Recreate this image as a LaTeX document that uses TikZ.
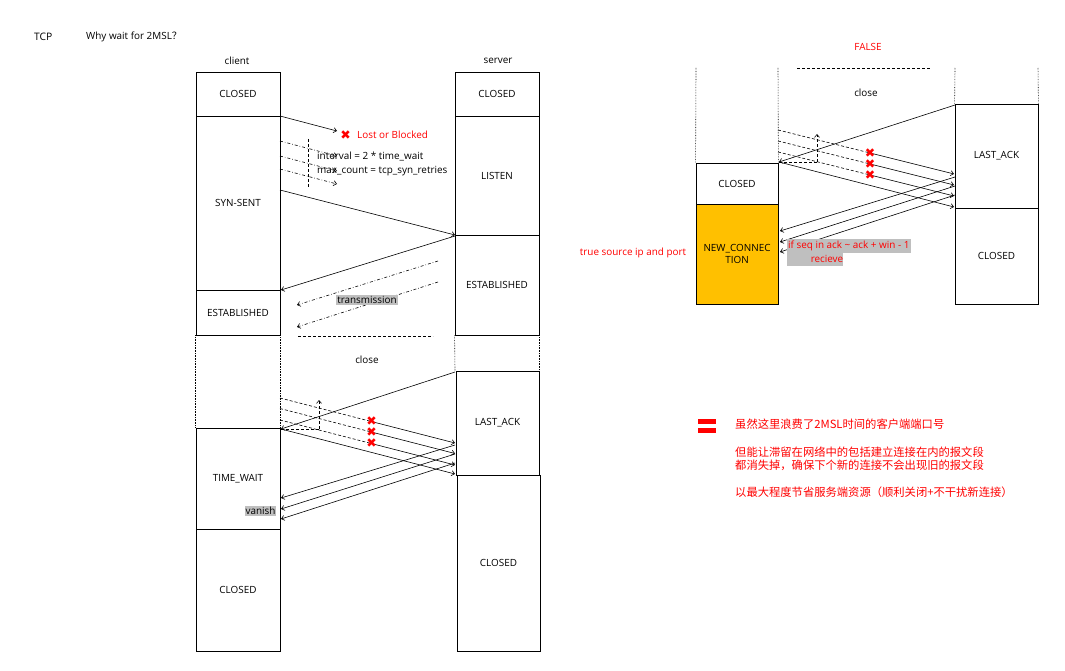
\documentclass[tikz,border=0pt]{standalone}
\usepackage{fontspec}
\setmainfont{Open Sans}
\newfontfamily\cjk{Noto Sans CJK SC}
\newfontfamily\symf{DejaVu Sans}
\usetikzlibrary{arrows.meta}
\definecolor{orng}{HTML}{FFC000}
\definecolor{hl}{HTML}{BFBFBF}
\newcommand\mybox[7][]{\node[box,#1,minimum width={(#5-#3)*1pt},minimum height={(#6-#4)*1pt}] (#2) at ({(#3+#5)/2},{(#4+#6)/2}) {#7};}
\begin{document}
\begin{tikzpicture}[x=1pt,y=-1pt,
  every node/.style={font=\fontsize{9.9}{12.2}\selectfont, inner sep=0pt},
  box/.style={draw, line width=0.8pt, align=center},
  redlbl/.style={text=red},
  msg/.style={line width=0.6pt, -{Straight Barb[length=3pt,width=5pt]}},
  dmsg/.style={msg, dash dot},
  rmsg/.style={line width=0.6pt, densely dashed},
  uparr/.style={line width=0.6pt, densely dashed, -{Straight Barb[length=3pt,width=5pt]}},
  col/.style={line width=0.6pt, densely dotted},
  sep/.style={line width=0.6pt, densely dashed},
  xm/.style={text=red, font=\symf\fontsize{12.5}{12.5}\selectfont},
  hlt/.style={fill=hl, inner xsep=1pt, inner ysep=1pt},
  cjktext/.style={anchor=west, text=red, font=\cjk\fontsize{11.3}{13}\selectfont},
]
\path[use as bounding box] (0,0) rectangle (1065,671);

% ---------- title ----------
\node[anchor=west, font=\fontsize{10.3}{12}\selectfont] (tcp) at (34,37) {TCP};
\node[anchor=west] (why) at (86,37) {Why wait for 2MSL{\cjk ？}};

% ---------- left diagram ----------
\node (client) at (237,61) {client};
\node (server) at (498,61) {server};

\mybox{cClosed}{196}{72}{280}{116}{CLOSED}
\mybox{cSyn}{196}{116}{280}{290}{SYN-SENT}
\mybox{cEst}{196}{290}{280}{335}{ESTABLISHED}
\mybox{cTW}{196}{428}{280}{529}{TIME\_WAIT}
\mybox{cClosedB}{196}{529}{280}{651}{CLOSED}

\mybox{sClosed}{455}{72}{539}{116}{CLOSED}
\mybox{sListen}{455}{116}{539}{235}{LISTEN}
\mybox{sEst}{455}{235}{539}{335}{ESTABLISHED}
\mybox{sLA}{456}{371}{539}{475}{LAST\_ACK}
\mybox{sClosedB}{457}{475}{540}{651}{CLOSED}

% SYN lost
\coordinate (synA) at (280,116);
\coordinate (synAe) at (337,131);
\draw[msg] (synA) -- (synAe);
\node[xm] (lostx) at (345.5,135) {✖};
\node[redlbl, anchor=west] (lost) at (357,135) {Lost or Blocked};

% retries
\coordinate (rt1) at (280,141); \coordinate (rt1e) at (337,156);
\coordinate (rt2) at (280,156); \coordinate (rt2e) at (337,171);
\coordinate (rt3) at (280,169); \coordinate (rt3e) at (337,184);
\draw[dmsg] (rt1) -- (rt1e);
\draw[dmsg] (rt2) -- (rt2e);
\draw[dmsg] (rt3) -- (rt3e);
\coordinate (vt) at (308,139); \coordinate (vb) at (308,187);
\draw[sep] (vt) -- (vb);
\node[anchor=west] (intv) at (317,157) {interval = 2 * time\_wait};
\node[anchor=west] (maxc) at (317,171) {max\_count = tcp\_syn\_retries};

% SYN / SYN-ACK
\coordinate (syn2) at (280,190); \coordinate (syn2e) at (455,235);
\draw[msg] (syn2) -- (syn2e);
\coordinate (sa) at (455,236); \coordinate (sae) at (281,290);
\draw[msg] (sa) -- (sae);

% transmission
\coordinate (tr1) at (438,261); \coordinate (tr1e) at (297,305);
\coordinate (tr2) at (438,282); \coordinate (tr2e) at (297,327);
\draw[dmsg] (tr1) -- (tr1e);
\draw[dmsg] (tr2) -- (tr2e);
\node[hlt] (trans) at (367,300) {transmission};

% close
\coordinate (cl1) at (298,336); \coordinate (cl2) at (433,336);
\draw[sep] (cl1) -- (cl2);
\node (closeL) at (367,360) {close};
\draw[col] (cEst.south west) -- (cTW.north west);
\draw[col] (cEst.south east) -- (cTW.north east);
\draw[col] (sEst.south west) -- (455,371);
\draw[col] (sEst.south east) -- (sLA.north east);

% FIN / ACK
\coordinate (fin) at (455,372); \coordinate (fine) at (281,429);
\draw[msg] (fin) -- (fine);
\coordinate (ack) at (281,429); \coordinate (acke) at (455,474);
\draw[msg] (ack) -- (acke);

% lost ACK retransmissions
\coordinate (l1) at (280,398);   \coordinate (lx1) at (371.7,421.6); \coordinate (l1e) at (455,443);
\coordinate (l2) at (280,408.5); \coordinate (lx2) at (371.7,432.1); \coordinate (l2e) at (455,453.5);
\coordinate (l3) at (280,420);   \coordinate (lx3) at (371.7,443.6); \coordinate (l3e) at (455,465);
\draw[rmsg] (l1) -- (lx1); \draw[msg] (lx1) -- (l1e);
\draw[rmsg] (l2) -- (lx2); \draw[msg] (lx2) -- (l2e);
\draw[rmsg] (l3) -- (lx3); \draw[msg] (lx3) -- (l3e);
\node[xm] (xl1) at (lx1) {✖};
\node[xm] (xl2) at (lx2) {✖};
\node[xm] (xl3) at (lx3) {✖};

% 2MSL timer
\coordinate (tm0) at (281,429); \coordinate (tm1) at (319,429); \coordinate (tm2) at (319,400);
\draw[sep] (tm0) -- (tm1);
\draw[uparr] (tm1) -- (tm2);

% returns
\coordinate (b1) at (455,445); \coordinate (b1e) at (281,498);
\coordinate (b2) at (455,454); \coordinate (b2e) at (281,509);
\coordinate (b3) at (455,463); \coordinate (b3e) at (281,519);
\draw[msg] (b1) -- (b1e);
\draw[msg] (b2) -- (b2e);
\draw[msg] (b3) -- (b3e);
\node[hlt] (vanish) at (260.5,511) {vanish};

% ---------- right diagram ----------
\node[redlbl] (false) at (868,47) {FALSE};
\coordinate (rc1) at (797,68); \coordinate (rc2) at (930,68);
\draw[sep] (rc1) -- (rc2);
\node (closeR) at (866,93) {close};

\mybox{rClosed}{696}{163}{778}{204}{CLOSED}
\mybox[fill=orng]{rNew}{696}{204}{778}{304}{NEW\_CONNEC\\TION}
\mybox{rLA}{955}{104}{1038}{208}{LAST\_ACK}
\mybox{rClosedB}{955}{208}{1038}{304}{CLOSED}

\draw[col] (696,68) -- (rClosed.north west);
\draw[col] (778,68) -- (rClosed.north east);
\draw[col] (955,68) -- (rLA.north west);
\draw[col] (1038,68) -- (rLA.north east);

\coordinate (rfin) at (955,105); \coordinate (rfine) at (779,162);
\draw[msg] (rfin) -- (rfine);
\coordinate (rack) at (779,162); \coordinate (racke) at (954,207);
\draw[msg] (rack) -- (racke);

\coordinate (q1) at (778,130); \coordinate (qx1) at (870,153); \coordinate (q1e) at (954,174);
\coordinate (q2) at (778,141); \coordinate (qx2) at (870,164); \coordinate (q2e) at (954,185);
\coordinate (q3) at (778,152); \coordinate (qx3) at (870,175); \coordinate (q3e) at (954,196);
\draw[rmsg] (q1) -- (qx1); \draw[msg] (qx1) -- (q1e);
\draw[rmsg] (q2) -- (qx2); \draw[msg] (qx2) -- (q2e);
\draw[rmsg] (q3) -- (qx3); \draw[msg] (qx3) -- (q3e);
\node[xm] (xr1) at (qx1) {✖};
\node[xm] (xr2) at (qx2) {✖};
\node[xm] (xr3) at (qx3) {✖};

\coordinate (rtm0) at (779,162); \coordinate (rtm1) at (817,162); \coordinate (rtm2) at (817,134);
\draw[sep] (rtm0) -- (rtm1);
\draw[uparr] (rtm1) -- (rtm2);

\coordinate (rb1) at (955,177); \coordinate (rb1e) at (780,231);
\coordinate (rb2) at (955,186); \coordinate (rb2e) at (780,242);
\coordinate (rb3) at (955,195); \coordinate (rb3e) at (780,252);
\draw[msg] (rb1) -- (rb1e);
\draw[msg] (rb2) -- (rb2e);
\draw[msg] (rb3) -- (rb3e);

\fill[hl] (786.7,239) rectangle (911,252.5);
\fill[hl] (786.7,252.5) rectangle (843,266);
\node[redlbl, anchor=west] (ifseq) at (788,245.5) {if seq in ack \textasciitilde{} ack + win - 1};
\node[redlbl] (recv) at (827,259) {recieve};
\node[redlbl] (truesrc) at (633,253) {true source ip and port};

% ---------- conclusion ----------
\fill[red] (698,419) rectangle (716,424);
\fill[red] (698,428) rectangle (716,433);
\node[cjktext] (c1) at (735,424.5) {虽然这里浪费了2MSL时间的客户端端口号};
\node[cjktext] (c2) at (735,452.5) {但能让滞留在网络中的包括建立连接在内的报文段};
\node[cjktext] (c3) at (735,465.5) {都消失掉，确保下个新的连接不会出现旧的报文段};
\node[cjktext] (c4) at (735,492.7) {以最大程度节省服务端资源（顺利关闭+不干扰新连接）};
\end{tikzpicture}
\end{document}
